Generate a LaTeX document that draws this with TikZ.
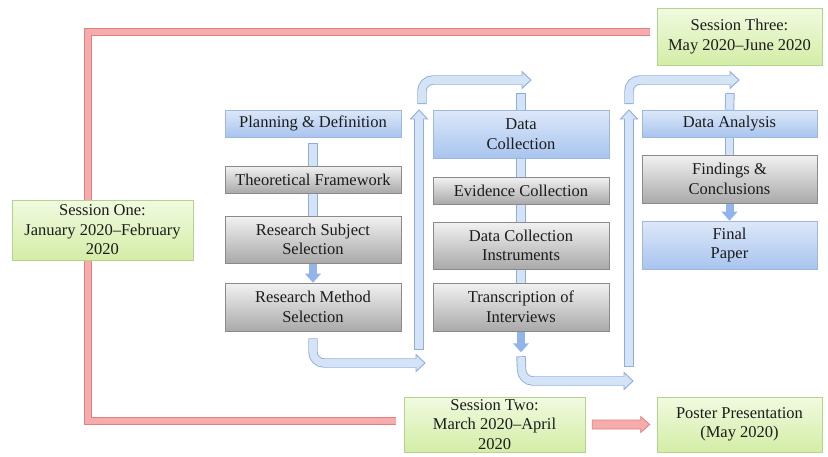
\documentclass[tikz,border=0pt]{standalone}
\usepackage{fontspec}
\setmainfont{Liberation Serif}
\usetikzlibrary{calc,shadows}
\pgfdeclarelayer{bg}
\pgfsetlayers{bg,main}
\definecolor{bluetop}{HTML}{DDE8F9}
\definecolor{bluebot}{HTML}{A8C4EE}
\definecolor{blueedge}{HTML}{9DB7DE}
\definecolor{graytop}{HTML}{F2F2F2}
\definecolor{graybot}{HTML}{A9A9A9}
\definecolor{grayedge}{HTML}{8A8A8A}
\definecolor{greentop}{HTML}{F1FAE0}
\definecolor{greenbot}{HTML}{D3EDA6}
\definecolor{greenedge}{HTML}{B4D38C}
\definecolor{txt}{HTML}{1C1C1C}
\definecolor{bedge}{HTML}{8EAEE0}
\definecolor{bfill}{HTML}{D5E3F7}
\definecolor{bsolid}{HTML}{93B4EA}
\definecolor{rededge}{HTML}{E07F7F}
\definecolor{redfill}{HTML}{F6ACAC}
\tikzset{
  box/.style={rectangle, minimum width=176pt, align=center, inner sep=0pt,
    text=txt, line width=0.6pt,
    drop shadow={shadow xshift=1.2pt, shadow yshift=-1.4pt, fill=black!45, opacity=0.45}},
  bluebox/.style={box, draw=blueedge, top color=bluetop, bottom color=bluebot},
  graybox/.style={box, draw=grayedge, top color=graytop, bottom color=graybot},
  greenbox/.style={box, draw=greenedge, top color=greentop, bottom color=greenbot},
  bo/.style={line width=9.4pt, draw=bedge, rounded corners=11pt},
  bi/.style={line width=7.6pt, draw=bfill, rounded corners=11pt, shorten <=0.9pt},
  bh/.style={fill=bfill, draw=bedge, line width=0.9pt, line join=miter},
  bhead/.pic={\filldraw[bh] (0,0) -- (-9,-8.5) -- (-9,8.5) -- cycle;
              \fill[bfill] (-9.8,-3.8) rectangle (-8.3,3.8);},
  shead/.pic={\fill[bsolid] (0,0) -- (-9,-8) -- (-9,8) -- cycle;},
  sshaft/.style={line width=8pt, draw=bsolid},
  redline/.style={draw=rededge, double=redfill, double distance=6pt, line width=1pt, line join=miter},
}
\newcommand\bentarrow[3]{%
  \draw[bo] #1;
  \draw[bi] #1;
  \pic[rotate=#3] at #2 {bhead};
}
\begin{document}
\begin{tikzpicture}[x=1pt, y=-1pt, font=\fontsize{16.5}{19.5}\selectfont]
\useasboundingbox (0,0) rectangle (828,456);

% ---- boxes ----
\node[bluebox, minimum height=27pt] (plan) at (313,123.5) {Planning \& Definition};
\node[graybox, minimum height=27pt] (theo) at (313,179.5) {Theoretical Framework};
\node[graybox, minimum height=47pt] (subj) at (313,239.5) {Research Subject\\Selection};
\node[graybox, minimum height=48pt] (meth) at (313,307) {Research Method\\Selection};

\node[bluebox, minimum height=48pt] (dcol) at (521,134) {Data\\Collection};
\node[graybox, minimum height=27pt] (evid) at (521,190.5) {Evidence Collection};
\node[graybox, minimum height=47pt] (inst) at (521,245.5) {Data Collection\\Instruments};
\node[graybox, minimum height=48pt] (tran) at (521,307) {Transcription of\\Interviews};

\node[bluebox, minimum width=175pt, minimum height=27pt] (anal) at (729.5,123.5) {Data Analysis};
\node[graybox, minimum width=175pt, minimum height=48pt] (find) at (729.5,179) {Findings \&\\Conclusions};
\node[bluebox, minimum width=175pt, minimum height=48pt] (fin) at (729.5,245) {Final\\Paper};

\node[greenbox, minimum width=181pt, minimum height=60pt] (s1) at (102.5,230) {Session One:\\January 2020–February\\2020};
\node[greenbox, minimum width=181pt, minimum height=55pt] (s2) at (494.5,424.5) {Session Two:\\March 2020–April\\2020};
\node[greenbox, minimum width=165pt, minimum height=55pt] (post) at (739.5,424.5) {Poster Presentation\\(May 2020)};
\node[greenbox, minimum width=165pt, minimum height=57pt] (s3) at (739.5,36.5) {Session Three:\\May 2020–June 2020};

% ---- coordinates ----
\coordinate (rc1) at (88,32);
\coordinate (rtop) at (650,32);
\coordinate (rc2) at (88,421);
\coordinate (rbot) at (396,421);

\coordinate (m1) at ($(meth.south)+(0,7)$);
\coordinate (m2) at (313,363);
\coordinate (m3) at (425,363);
\coordinate (t1) at ($(tran.south)+(0,25)$);
\coordinate (t2) at (522,381);
\coordinate (t3) at (633,381);
\coordinate (tdn) at ($(tran.south)+(0,21)$);
\coordinate (u1a) at (419,350);
\coordinate (u1b) at (419,110);
\coordinate (u2a) at (629,367);
\coordinate (u2b) at (629,110);
\coordinate (k1a) at (422,104);
\coordinate (k1b) at (422,80);
\coordinate (k1c) at (531,80);
\coordinate (k2a) at (629,104);
\coordinate (k2b) at (629,80);
\coordinate (k2c) at (739,80);
\coordinate (st1) at (521,93);
\coordinate (st2) at (730,93);

\begin{pgfonlayer}{bg}
% red session lines
\draw[redline] (rtop) -- (rc1) -- (rc1 |- s1.north);
\draw[redline] (rc2 |- s1.south) -- (rc2) -- (rbot);
\filldraw[fill=redfill, draw=rededge, line width=0.8pt, line join=miter]
  ($(s2.east)+(7,-4.5)$) -- ($(post.west)+(-16,-4.5)$) -- ($(post.west)+(-16,-8)$)
  -- ($(post.west)+(-7,0)$) -- ($(post.west)+(-16,8)$) -- ($(post.west)+(-16,4.5)$)
  -- ($(s2.east)+(7,4.5)$) -- cycle;

% plain connectors
\draw[bo] ($(plan.south)+(0,6)$) -- (theo.north);
\draw[bi] ($(plan.south)+(0,6)$) -- (theo.north);
\draw[bo] (theo.south) -- (subj.north);
\draw[bi] (theo.south) -- (subj.north);
\draw[bo] (dcol.south) -- (evid.north);
\draw[bi] (dcol.south) -- (evid.north);
\draw[bo] (evid.south) -- (inst.north);
\draw[bi] (evid.south) -- (inst.north);
\draw[bo] (inst.south) -- (tran.north);
\draw[bi] (inst.south) -- (tran.north);
\draw[bo] (anal.south) -- (find.north);
\draw[bi] (anal.south) -- (find.north);
\draw[bo] (st1) -- (dcol.north);
\draw[bi] (st1) -- (dcol.north);
\draw[bo] (st2) -- (anal.north);
\draw[bi] (st2) -- (anal.north);

% solid short arrows
\draw[sshaft] (subj.south) -- ($(meth.north)+(0,-8.5)$);
\pic[rotate=-90] at (meth.north) {shead};
\draw[sshaft] (tran.south) -- ($(tdn)+(0,-8.5)$);
\pic[rotate=-90] at (tdn) {shead};
\draw[sshaft] (find.south) -- ($(fin.north)+(0,-8.5)$);
\pic[rotate=-90] at (fin.north) {shead};
\end{pgfonlayer}

% bent and long arrows
\bentarrow{(m1) -- (m2) -- ($(m3)+(-9,0)$)}{(m3)}{0}
\bentarrow{(t1) -- (t2) -- ($(t3)+(-9,0)$)}{(t3)}{0}
\bentarrow{(u1a) -- ($(u1b)+(0,9)$)}{(u1b)}{90}
\bentarrow{(u2a) -- ($(u2b)+(0,9)$)}{(u2b)}{90}
\bentarrow{(k1a) -- (k1b) -- ($(k1c)+(-9,0)$)}{(k1c)}{0}
\bentarrow{(k2a) -- (k2b) -- ($(k2c)+(-9,0)$)}{(k2c)}{0}
\end{tikzpicture}
\end{document}
